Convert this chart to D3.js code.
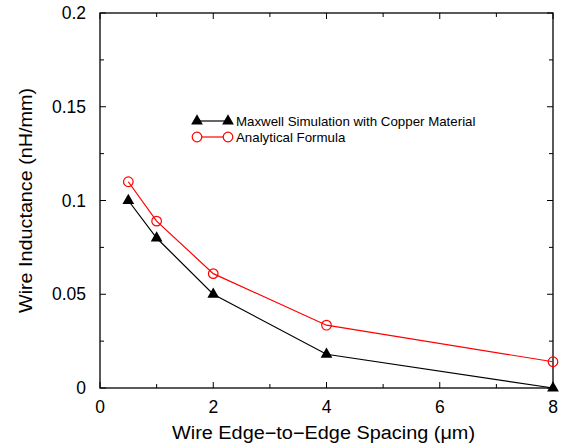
<!DOCTYPE html>
<html>
<head>
<meta charset="utf-8">
<script src="https://cdn.jsdelivr.net/npm/d3@7"></script>
<style>
  body { margin: 0; background: #fff; }
  text { font-family: "Liberation Sans", Arial, sans-serif; }
</style>
</head>
<body>
<div id="chart"></div>
<script>
const spacing = [0.5, 1, 2, 4, 8];
const maxwellSim = [0.1, 0.08, 0.05, 0.018, 0.0];
const analytical = [0.11, 0.089, 0.061, 0.0335, 0.014];
const xTicks = [0, 2, 4, 6, 8];
const yTicks = [0, 0.05, 0.1, 0.15, 0.2];
const seriesNames = ["Maxwell Simulation with Copper Material", "Analytical Formula"];

const W = 566, H = 445;
const margin = { top: 13, right: 13, bottom: 57, left: 100 };
const width = W - margin.left - margin.right;
const height = H - margin.top - margin.bottom;

const svg = d3.select("#chart").append("svg")
  .attr("width", W).attr("height", H);

const g = svg.append("g")
  .attr("transform", `translate(${margin.left},${margin.top})`);

const x = d3.scaleLinear().domain([0, 8]).range([0, width]);
const y = d3.scaleLinear().domain([0, 0.2]).range([height, 0]);

const fmtY = d => d === 0 ? "0" : String(+d.toFixed(2));

// ticks inward on all four sides, minor ones shorter
const xMinor = d3.range(0, 8.01, 1);
const yMinor = d3.range(0, 0.2001, 0.025);
const tickG = g.append("g").attr("stroke", "#000").attr("stroke-width", 1);
xMinor.forEach(v => {
  const len = v % 2 === 0 ? 6 : 4;
  tickG.append("line").attr("x1", x(v)).attr("x2", x(v)).attr("y1", height).attr("y2", height - len);
  tickG.append("line").attr("x1", x(v)).attr("x2", x(v)).attr("y1", 0).attr("y2", len);
});
yMinor.forEach(v => {
  const major = Math.abs(v / 0.05 - Math.round(v / 0.05)) < 1e-6;
  const len = major ? 6 : 4;
  tickG.append("line").attr("x1", 0).attr("x2", len).attr("y1", y(v)).attr("y2", y(v));
  tickG.append("line").attr("x1", width).attr("x2", width - len).attr("y1", y(v)).attr("y2", y(v));
});

// frame
g.append("rect")
  .attr("width", width).attr("height", height)
  .attr("fill", "none").attr("stroke", "#000").attr("stroke-width", 1.3);

// tick labels
g.append("g").selectAll("text").data(xTicks).join("text")
  .attr("x", d => x(d)).attr("y", height + 25)
  .attr("text-anchor", "middle").attr("font-size", 17.5)
  .text(d => d);

g.append("g").selectAll("text").data(yTicks).join("text")
  .attr("x", -14).attr("y", d => y(d) + 6)
  .attr("text-anchor", "end").attr("font-size", 17.5)
  .text(fmtY);

// axis titles
svg.append("text")
  .attr("x", 172).attr("y", H - 6.5)
  .attr("font-size", 18)
  .attr("textLength", 303).attr("lengthAdjust", "spacingAndGlyphs")
  .text("Wire Edge\u2212to\u2212Edge Spacing (\u03bcm)");

svg.append("text")
  .attr("transform", "translate(32,313) rotate(-90)")
  .attr("font-size", 18)
  .attr("textLength", 225).attr("lengthAdjust", "spacingAndGlyphs")
  .text("Wire Inductance (nH/mm)");

// series
const line = d3.line().x(d => x(d[0])).y(d => y(d[1]));
const simData = spacing.map((s, i) => [s, maxwellSim[i]]);
const anaData = spacing.map((s, i) => [s, analytical[i]]);

g.append("path").datum(anaData).attr("d", line)
  .attr("fill", "none").attr("stroke", "#ff0000").attr("stroke-width", 1.2);
g.append("path").datum(simData).attr("d", line)
  .attr("fill", "none").attr("stroke", "#000").attr("stroke-width", 1.2);

const tri = d3.symbol().type(d3.symbolTriangle).size(60);

g.selectAll("path.tri").data(simData).join("path")
  .attr("class", "tri")
  .attr("d", tri)
  .attr("transform", d => `translate(${x(d[0])},${y(d[1])})`)
  .attr("fill", "#000");

g.selectAll("circle.ana").data(anaData).join("circle")
  .attr("class", "ana")
  .attr("cx", d => x(d[0])).attr("cy", d => y(d[1])).attr("r", 4.8)
  .attr("fill", "none").attr("stroke", "#ff0000").attr("stroke-width", 1.2);

// legend
const leg = svg.append("g");
const lx1 = 197, lx2 = 228, ly = 121, lgap = 16;
leg.append("line").attr("x1", lx1).attr("x2", lx2).attr("y1", ly).attr("y2", ly)
  .attr("stroke", "#000").attr("stroke-width", 1.2);
[lx1, lx2].forEach(px => leg.append("path").attr("d", tri)
  .attr("transform", `translate(${px},${ly})`).attr("fill", "#000"));
leg.append("line").attr("x1", lx1).attr("x2", lx2).attr("y1", ly + lgap).attr("y2", ly + lgap)
  .attr("stroke", "#ff0000").attr("stroke-width", 1.2);
[lx1, lx2].forEach(px => leg.append("circle").attr("cx", px).attr("cy", ly + lgap).attr("r", 4.8)
  .attr("fill", "#fff").attr("stroke", "#ff0000").attr("stroke-width", 1.2));
seriesNames.forEach((n, i) => leg.append("text")
  .attr("x", 236).attr("y", ly + i * lgap + 4.5)
  .attr("font-size", 13.3).text(n));
</script>
</body>
</html>
